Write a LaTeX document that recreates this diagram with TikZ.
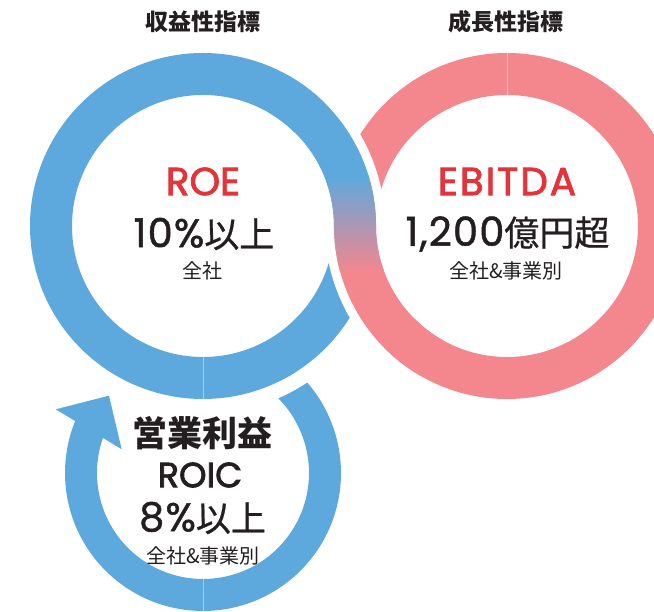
\documentclass[tikz,border=0pt]{standalone}
\usepackage{fontspec}
\newfontfamily\jp{Noto Sans CJK JP}
\newfontfamily\jpm{Noto Sans CJK JP}[FakeBold=0.7]
\newfontfamily\lat{Poppins}[FakeBold=1.2]
\newfontfamily\latb{Poppins}[FakeBold=2.2]
\definecolor{bleu}{HTML}{5DA9DD}
\definecolor{rose}{HTML}{F4868E}
\definecolor{mauve}{HTML}{BE94AA}
\definecolor{rouge}{HTML}{E4343B}
\definecolor{encre}{HTML}{231F20}
\newcommand\chiffres[1]{{\lat\fontsize{40}{40}\selectfont\addfontfeature{LetterSpace=3}#1}}
\begin{document}
\begin{tikzpicture}[x=1pt,y=1pt,
    anneau/.style={line width=42pt},
    coupe/.style={white,line width=60pt},
    couture/.style={white,opacity=0.45,line width=0.8pt},
    titre/.style={inner sep=0pt,text=encre,font=\jp\bfseries\fontsize{23}{23}\selectfont},
    sigle/.style={inner sep=0pt,font=\latb\fontsize{39}{39}\selectfont},
    valeur/.style={inner sep=0pt,text=encre,font=\jpm\fontsize{35}{35}\selectfont},
    portee/.style={inner sep=0pt,text=encre,font=\jp\fontsize{20}{20}\selectfont}]
    \useasboundingbox (0,0) rectangle (654,612);
    \clip (0,0) rectangle (654,612);

    % centres des trois anneaux
    \coordinate (cb) at (203,386);
    \coordinate (cr) at (507,386);
    \coordinate (cp) at (203,139);

    % petit anneau avec sa pointe de fleche
    \draw[bleu, line width=32pt] (cp) ++(50:122) arc[start angle=50, end angle=-204, radius=122];
    \fill[bleu] (55.7,202.7) -- (109,216.3) -- (121.7,162.7) -- cycle;
    \draw[white, line width=15pt] (cb) ++(-78:180.5) arc[start angle=-78, end angle=-40, radius=180.5];

    % les deux grands anneaux
    \draw[bleu, anneau] (cb) circle[radius=152];
    \draw[rose, anneau] (cr) circle[radius=152];

    % croisement : chaque arc passe devant l'autre anneau
    \draw[coupe] (cr) ++(180:152) arc[start angle=180, end angle=225, radius=152];
    \draw[rose, anneau] (cr) ++(180:152) arc[start angle=180, end angle=240, radius=152];
    \draw[coupe] (cb) ++(0:152) arc[start angle=0, end angle=45, radius=152];
    \draw[bleu, anneau] (cb) ++(0:152) arc[start angle=0, end angle=60, radius=152];

    % degrade au point de croisement
    \begin{scope}
        \clip ([shift={(cb)}]-2:131) arc[start angle=-2, end angle=20, radius=131]
            -- ([shift={(cb)}]20:173) arc[start angle=20, end angle=-2, radius=173] -- cycle;
        \shade[top color=bleu, middle color=mauve, bottom color=rose] (320,340) rectangle (390,436);
    \end{scope}
    \begin{scope}
        \clip ([shift={(cr)}]178:131) arc[start angle=178, end angle=200, radius=131]
            -- ([shift={(cr)}]200:173) arc[start angle=200, end angle=178, radius=173] -- cycle;
        \shade[top color=bleu, middle color=mauve, bottom color=rose] (320,340) rectangle (390,436);
    \end{scope}

    % coutures claires
    \draw[couture] (203,213) -- (203,255);
    \draw[couture] (507,517) -- (507,559);
    \draw[couture] (203,1) -- (203,33);

    % titres
    \node[titre] (titreg) at (203,590.5) {収益性指標};
    \node[titre] (titred) at (506,590.5) {成長性指標};

    % anneau ROE
    \node[sigle, text=rouge] (roe) at (203,430.5) {ROE};
    \node[valeur] (roeval) at (204,378) {\chiffres{10\%}以上};
    \node[portee] (roeport) at (202,341) {全社};

    % anneau EBITDA
    \node[sigle, text=rouge] (ebitda) at (507,430.5) {\addfontfeature{LetterSpace=5}EBITDA};
    \node[valeur] (ebitdaval) at (507.5,378) {\chiffres{1,200}億円超};
    \node[portee] (ebitdaport) at (506,341) {全社\&事業別};

    % petit anneau ROIC
    \node[titre, font=\jp\bfseries\fontsize{35}{35}\selectfont] (roiclib) at (202,179) {営業利益};
    \node[sigle, text=encre, font=\latb\fontsize{35}{35}\selectfont] (roic) at (200,137) {ROIC};
    \node[valeur] (roicval) at (202.5,94) {\chiffres{8\%}以上};
    \node[portee] (roicport) at (203,56) {全社\&事業別};
\end{tikzpicture}
\end{document}
